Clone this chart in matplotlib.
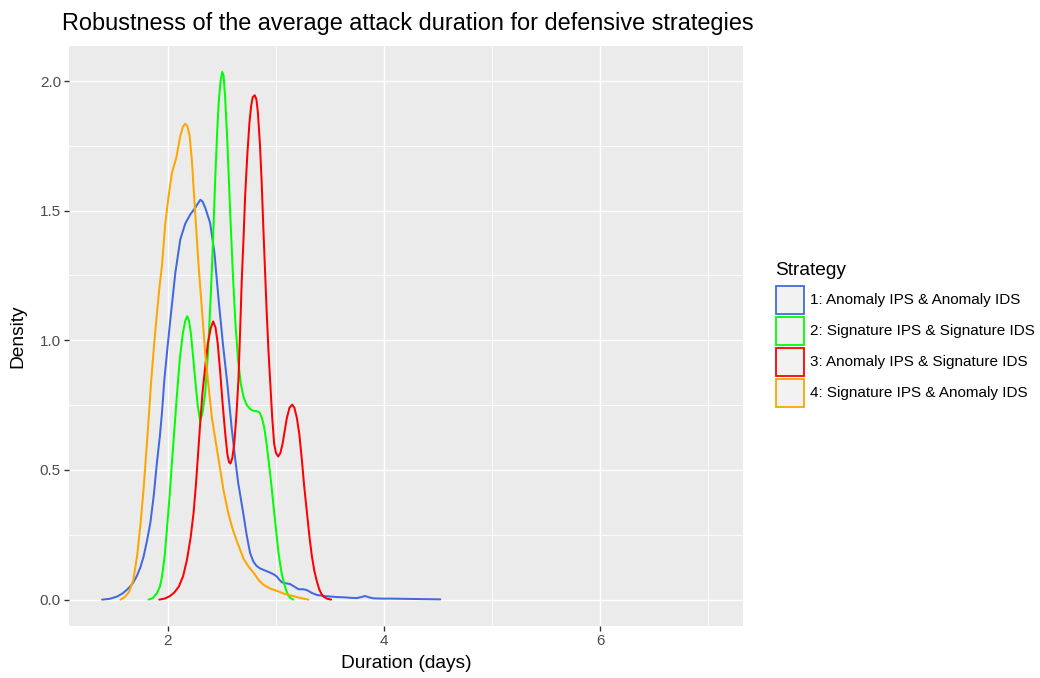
import matplotlib
matplotlib.use("Agg")
import matplotlib.pyplot as plt
from matplotlib.patches import Rectangle

plt.rcParams['font.family'] = ['Liberation Sans', 'DejaVu Sans']

# ---- data: density estimates of average attack duration per strategy ----
strategies = [
    "1: Anomaly IPS & Anomaly IDS",
    "2: Signature IPS & Signature IDS",
    "3: Anomaly IPS & Signature IDS",
    "4: Signature IPS & Anomaly IDS",
]
colors = ["#4169E1", "#00FF00", "#FF0000", "#FFA500"]

dur_1 = [1.39, 1.46, 1.53, 1.58, 1.62, 1.67, 1.71, 1.745, 1.775, 1.805, 1.837, 1.868,
         1.898, 1.925, 1.945, 1.966, 1.995, 2.022, 2.068, 2.114, 2.16, 2.206, 2.252,
         2.28, 2.30, 2.32, 2.345, 2.39, 2.43, 2.47, 2.51, 2.55, 2.59, 2.62, 2.65, 2.69,
         2.73, 2.76, 2.79, 2.82, 2.854, 2.90, 2.946, 2.98, 3.008, 3.03, 3.054, 3.09,
         3.13, 3.17, 3.208, 3.25, 3.285, 3.33, 3.378, 3.44, 3.50, 3.56, 3.624, 3.69,
         3.747, 3.79, 3.824, 3.86, 3.90, 3.98, 4.06, 4.2, 4.35, 4.52]
dens_1 = [0.0, 0.003, 0.012, 0.024, 0.038, 0.06, 0.089, 0.125, 0.167, 0.225, 0.296, 0.40,
          0.529, 0.63, 0.723, 0.845, 0.97, 1.08, 1.26, 1.389, 1.45, 1.485, 1.511,
          1.53, 1.542, 1.535, 1.511, 1.453, 1.337, 1.15, 0.98, 0.83, 0.66, 0.55, 0.45, 0.35,
          0.245, 0.18, 0.147, 0.13, 0.12, 0.112, 0.104, 0.097, 0.089, 0.077, 0.067, 0.063,
          0.06, 0.05, 0.04, 0.04, 0.037, 0.026, 0.018, 0.014, 0.012, 0.01, 0.009, 0.007,
          0.006, 0.01, 0.014, 0.009, 0.005, 0.004, 0.004, 0.003, 0.002, 0.001]

dur_2 = [1.82, 1.86, 1.898, 1.925, 1.945, 1.97, 1.99, 2.015, 2.037, 2.06, 2.083, 2.11,
         2.138, 2.16, 2.178, 2.195, 2.212, 2.232, 2.252, 2.275, 2.298, 2.32, 2.345, 2.37,
         2.39, 2.406, 2.42, 2.437, 2.455, 2.47, 2.487, 2.502, 2.515, 2.53, 2.55, 2.575,
         2.60, 2.625, 2.65, 2.675, 2.70, 2.73, 2.76, 2.79, 2.82, 2.847, 2.87, 2.89, 2.91,
         2.93, 2.955, 2.977, 3.0, 3.023, 3.046, 3.07, 3.095, 3.115, 3.135, 3.16]
dens_2 = [0.0, 0.006, 0.025, 0.05, 0.089, 0.17, 0.27, 0.40, 0.53, 0.66, 0.79, 0.93,
          1.028, 1.075, 1.093, 1.075, 1.028, 0.94, 0.848, 0.75, 0.69, 0.72, 0.80, 0.95,
          1.12, 1.27, 1.42, 1.62, 1.80, 1.92, 2.0, 2.035, 2.02, 1.93, 1.76, 1.50,
          1.26, 1.06, 0.92, 0.83, 0.78, 0.75, 0.735, 0.728, 0.727, 0.722, 0.70, 0.665, 0.61,
          0.54, 0.45, 0.36, 0.27, 0.18, 0.115, 0.068, 0.035, 0.015, 0.006, 0.0]

dur_3 = [1.92, 1.97, 2.02, 2.06, 2.10, 2.14, 2.176, 2.21, 2.237, 2.26, 2.284, 2.30, 2.32,
         2.345, 2.37, 2.395, 2.418, 2.44, 2.46, 2.483, 2.505, 2.53, 2.55, 2.565, 2.578,
         2.595, 2.613, 2.633, 2.652, 2.668, 2.683, 2.70, 2.714, 2.735, 2.754, 2.77, 2.785,
         2.803, 2.818, 2.832, 2.852, 2.868, 2.883, 2.90, 2.914, 2.93, 2.945, 2.965, 2.983,
         3.0, 3.02, 3.04, 3.06, 3.08, 3.10, 3.125, 3.15, 3.17, 3.193, 3.215, 3.239, 3.26,
         3.285, 3.31, 3.331, 3.355, 3.378, 3.40, 3.42, 3.445, 3.47, 3.51]
dens_3 = [0.0, 0.004, 0.014, 0.028, 0.05, 0.09, 0.154, 0.24, 0.335, 0.45, 0.594, 0.69, 0.80,
          0.90, 0.99, 1.045, 1.073, 1.05, 0.99, 0.88, 0.76, 0.64, 0.56, 0.53, 0.525,
          0.545, 0.60, 0.71, 0.845, 1.04, 1.234, 1.40, 1.556, 1.72, 1.839, 1.905, 1.938,
          1.945, 1.93, 1.88, 1.75, 1.60, 1.43, 1.25, 1.105, 0.96, 0.848, 0.70, 0.60,
          0.565, 0.552, 0.565, 0.60, 0.65, 0.70, 0.74, 0.752, 0.74, 0.70, 0.64, 0.54, 0.44,
          0.34, 0.24, 0.17, 0.11, 0.07, 0.04, 0.022, 0.01, 0.004, 0.0]

dur_4 = [1.56, 1.60, 1.64, 1.68, 1.715, 1.744, 1.775, 1.81, 1.845, 1.875, 1.898, 1.92,
         1.945, 1.975, 2.006, 2.037, 2.077, 2.114, 2.14, 2.16, 2.18, 2.20, 2.222, 2.252,
         2.283, 2.314, 2.345, 2.376, 2.407, 2.453, 2.515, 2.56, 2.60, 2.638, 2.70, 2.75,
         2.79, 2.84, 2.884, 2.95, 3.02, 3.08, 3.13, 3.19, 3.254, 3.30]
dens_4 = [0.0, 0.01, 0.03, 0.076, 0.17, 0.283, 0.43, 0.63, 0.845, 1.0, 1.105, 1.2,
          1.29, 1.45, 1.556, 1.646, 1.704, 1.788, 1.825, 1.835, 1.825, 1.79, 1.69, 1.49,
          1.29, 1.12, 0.95, 0.82, 0.70, 0.58, 0.42, 0.33, 0.27, 0.225, 0.157, 0.125,
          0.105, 0.075, 0.057, 0.042, 0.032, 0.022, 0.017, 0.01, 0.004, 0.0]

durations = [dur_1, dur_2, dur_3, dur_4]
densities = [dens_1, dens_2, dens_3, dens_4]

y_ticks = [0.0, 0.5, 1.0, 1.5, 2.0]
x_ticks = [2, 4, 6]

# ---- figure / panel ----
W, H = 1040, 678
fig = plt.figure(figsize=(W / 100, H / 100), dpi=100)
fig.patch.set_facecolor("white")
ax = fig.add_axes([69.3 / W, 1 - 626 / H, (743.3 - 69.3) / W, (626 - 46) / H])
ax.set_facecolor("#EBEBEB")
for sp in ax.spines.values():
    sp.set_visible(False)

ax.set_xlim(1.087, 7.324)
ax.set_ylim(-0.1017, 2.135)
ax.set_xticks(x_ticks)
ax.set_xticks([3, 5, 7], minor=True)
ax.set_yticks(y_ticks)
ax.set_yticklabels([f"{v:.1f}" for v in y_ticks])
ax.set_yticks([0.25, 0.75, 1.25, 1.75], minor=True)
ax.grid(which="major", color="white", lw=1.0)
ax.grid(which="minor", color="white", lw=0.6)
ax.set_axisbelow(True)
ax.tick_params(which="major", length=3.5, width=1.0, color="#333333",
               labelsize=11, labelcolor="#4D4D4D", pad=2.5)
ax.tick_params(which="minor", length=0)

for xs, ys, c in zip(durations, densities, colors):
    ax.plot(xs, ys, color=c, lw=1.45, solid_joinstyle="round", solid_capstyle="round")

# ---- titles ----
fig.text(62 / W, 1 - 30 / H, "Robustness of the average attack duration for defensive strategies",
         fontsize=16.9, ha="left", va="baseline", color="black")
fig.text(406 / W, 1 - 664 / H, "Duration (days)", fontsize=13.75, ha="center", va="center")
fig.text(18 / W, 1 - 336 / H, "Density", fontsize=13.75, ha="center", va="center", rotation=90)

# ---- legend ----
fig.text(775 / W, 1 - 271 / H, "Strategy", fontsize=13.75, ha="left", va="center")
key_w, key_h = 28, 28
for i, (lab, c) in enumerate(zip(strategies, colors)):
    cy = 300 + 31 * i
    fig.add_artist(Rectangle((775.5 / W, 1 - (cy + key_h / 2) / H), key_w / W, key_h / H,
                             transform=fig.transFigure, facecolor="#F2F2F2",
                             edgecolor=c, lw=1.3))
    fig.text(810 / W, 1 - cy / H, lab, fontsize=11, ha="left", va="center", color="black")

fig.savefig("out.png", dpi=100)
